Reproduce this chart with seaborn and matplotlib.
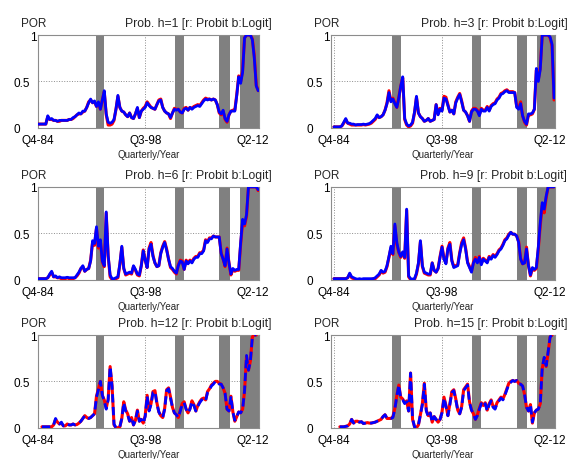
import numpy as np
import matplotlib.pyplot as plt
import seaborn as sns
from matplotlib.transforms import ScaledTranslation

# quarters counted from Q4-84 (index 0)
tick_pos = [0, 55, 110]
tick_labels = ["Q4-84", "Q3-98", "Q2-12"]
recessions = [(29.5, 34), (70.5, 75), (93, 98.5), (103.5, 114)]
horizons = [1, 3, 6, 9, 12, 15]

logit_h1 = [0.04, 0.04, 0.04, 0.04, 0.04, 0.13, 0.09, 0.10, 0.08, 0.08,
            0.07, 0.08, 0.08, 0.08, 0.08, 0.08, 0.09, 0.09, 0.11, 0.12,
            0.14, 0.16, 0.15, 0.18, 0.18, 0.22, 0.27, 0.31, 0.27, 0.29,
            0.23, 0.28, 0.20, 0.30, 0.40, 0.15, 0.06, 0.05, 0.06, 0.09,
            0.20, 0.35, 0.22, 0.18, 0.17, 0.14, 0.12, 0.16, 0.11, 0.10,
            0.15, 0.22, 0.11, 0.18, 0.20, 0.22, 0.27, 0.24, 0.22, 0.21,
            0.20, 0.25, 0.29, 0.30, 0.22, 0.18, 0.16, 0.15, 0.11, 0.16,
            0.20, 0.19, 0.20, 0.17, 0.16, 0.20, 0.21, 0.19, 0.22, 0.20,
            0.22, 0.23, 0.24, 0.23, 0.26, 0.29, 0.31, 0.30, 0.31, 0.30,
            0.31, 0.30, 0.25, 0.17, 0.15, 0.19, 0.10, 0.07, 0.14, 0.18,
            0.18, 0.18, 0.35, 0.55, 0.48, 0.60, 0.97, 1.0, 1.0, 1.0,
            0.95, 0.75, 0.45, 0.40]
probit_h1 = [0.04, 0.04, 0.04, 0.04, 0.04, 0.12, 0.09, 0.09, 0.08, 0.08,
             0.07, 0.07, 0.08, 0.08, 0.08, 0.08, 0.09, 0.09, 0.10, 0.12,
             0.14, 0.15, 0.15, 0.17, 0.18, 0.22, 0.28, 0.30, 0.27, 0.28,
             0.23, 0.27, 0.20, 0.30, 0.39, 0.14, 0.03, 0.03, 0.04, 0.08,
             0.20, 0.34, 0.22, 0.18, 0.17, 0.14, 0.12, 0.16, 0.11, 0.10,
             0.15, 0.21, 0.11, 0.18, 0.21, 0.23, 0.28, 0.25, 0.22, 0.21,
             0.20, 0.25, 0.30, 0.31, 0.22, 0.18, 0.16, 0.15, 0.10, 0.16,
             0.21, 0.20, 0.20, 0.17, 0.16, 0.21, 0.22, 0.19, 0.22, 0.21,
             0.23, 0.24, 0.25, 0.24, 0.27, 0.30, 0.32, 0.31, 0.31, 0.30,
             0.31, 0.30, 0.25, 0.16, 0.14, 0.18, 0.09, 0.06, 0.14, 0.18,
             0.19, 0.19, 0.36, 0.56, 0.50, 0.62, 0.97, 1.0, 1.0, 1.0,
             0.96, 0.78, 0.46, 0.40]

logit_h3 = [0.01, 0.01, 0.01, 0.01, 0.02, 0.06, 0.10, 0.05, 0.05, 0.04,
            0.04, 0.03, 0.035, 0.035, 0.035, 0.04, 0.035, 0.04, 0.045, 0.06,
            0.08, 0.10, 0.14, 0.11, 0.12, 0.14, 0.19, 0.26, 0.38, 0.28,
            0.31, 0.26, 0.22, 0.32, 0.45, 0.55, 0.10, 0.04, 0.02, 0.03,
            0.06, 0.17, 0.34, 0.16, 0.12, 0.10, 0.07, 0.08, 0.10, 0.07,
            0.08, 0.09, 0.25, 0.14, 0.20, 0.18, 0.32, 0.31, 0.24, 0.17,
            0.19, 0.15, 0.27, 0.32, 0.36, 0.28, 0.19, 0.17, 0.13, 0.07,
            0.17, 0.20, 0.20, 0.18, 0.13, 0.20, 0.18, 0.18, 0.22, 0.18,
            0.23, 0.25, 0.26, 0.30, 0.32, 0.36, 0.37, 0.39, 0.40, 0.38,
            0.38, 0.38, 0.38, 0.22, 0.20, 0.26, 0.13, 0.07, 0.04, 0.15,
            0.15, 0.16, 0.20, 0.64, 0.50, 0.63, 1.0, 1.0, 1.0, 1.0,
            0.98, 0.90, 0.32]
probit_h3 = [0.01, 0.01, 0.01, 0.01, 0.02, 0.05, 0.09, 0.05, 0.04, 0.03,
             0.03, 0.03, 0.03, 0.03, 0.03, 0.035, 0.03, 0.035, 0.04, 0.05,
             0.07, 0.09, 0.13, 0.11, 0.12, 0.14, 0.19, 0.27, 0.40, 0.29,
             0.32, 0.27, 0.22, 0.33, 0.45, 0.54, 0.09, 0.03, 0.01, 0.02,
             0.05, 0.16, 0.33, 0.16, 0.12, 0.10, 0.07, 0.08, 0.10, 0.07,
             0.08, 0.09, 0.25, 0.15, 0.21, 0.19, 0.34, 0.33, 0.25, 0.17,
             0.19, 0.15, 0.28, 0.33, 0.37, 0.29, 0.19, 0.17, 0.13, 0.07,
             0.18, 0.21, 0.21, 0.19, 0.14, 0.21, 0.19, 0.19, 0.23, 0.19,
             0.24, 0.26, 0.27, 0.31, 0.33, 0.37, 0.38, 0.40, 0.41, 0.39,
             0.39, 0.39, 0.38, 0.23, 0.21, 0.28, 0.13, 0.06, 0.03, 0.14,
             0.14, 0.15, 0.20, 0.62, 0.52, 0.65, 1.0, 1.0, 1.0, 1.0,
             0.97, 0.88, 0.30]

logit_h6 = [0.01, 0.01, 0.01, 0.01, 0.01, 0.02, 0.06, 0.09, 0.03, 0.04,
            0.02, 0.03, 0.02, 0.02, 0.02, 0.025, 0.02, 0.02, 0.02, 0.02,
            0.05, 0.08, 0.12, 0.15, 0.09, 0.11, 0.12, 0.20, 0.42, 0.39,
            0.57, 0.36, 0.43, 0.20, 0.15, 0.73, 0.26, 0.05, 0.01, 0.01,
            0.02, 0.03, 0.17, 0.36, 0.12, 0.06, 0.07, 0.08, 0.07, 0.15,
            0.11, 0.06, 0.05, 0.15, 0.31, 0.21, 0.13, 0.33, 0.38, 0.25,
            0.18, 0.14, 0.15, 0.28, 0.35, 0.40, 0.32, 0.22, 0.14, 0.12,
            0.09, 0.07, 0.15, 0.20, 0.19, 0.11, 0.20, 0.17, 0.20, 0.18,
            0.22, 0.24, 0.24, 0.28, 0.28, 0.31, 0.42, 0.40, 0.44, 0.44,
            0.47, 0.46, 0.46, 0.46, 0.28, 0.22, 0.15, 0.33, 0.18, 0.06,
            0.12, 0.10, 0.11, 0.11, 0.40, 0.65, 0.60, 0.70, 1.0, 1.0,
            1.0, 1.0, 1.0, 0.97]
probit_h6 = [0.01, 0.01, 0.01, 0.01, 0.01, 0.02, 0.05, 0.08, 0.03, 0.03,
             0.02, 0.02, 0.01, 0.01, 0.01, 0.02, 0.01, 0.01, 0.01, 0.02,
             0.04, 0.07, 0.12, 0.14, 0.09, 0.11, 0.12, 0.21, 0.40, 0.37,
             0.55, 0.34, 0.42, 0.19, 0.14, 0.72, 0.25, 0.03, 0.00, 0.00,
             0.01, 0.02, 0.16, 0.35, 0.12, 0.05, 0.06, 0.07, 0.06, 0.14,
             0.10, 0.05, 0.04, 0.15, 0.32, 0.21, 0.13, 0.34, 0.40, 0.26,
             0.18, 0.14, 0.15, 0.29, 0.36, 0.41, 0.33, 0.22, 0.13, 0.11,
             0.08, 0.06, 0.16, 0.21, 0.20, 0.11, 0.21, 0.18, 0.21, 0.19,
             0.23, 0.25, 0.25, 0.29, 0.29, 0.32, 0.43, 0.41, 0.45, 0.45,
             0.47, 0.46, 0.46, 0.46, 0.29, 0.22, 0.14, 0.34, 0.18, 0.05,
             0.11, 0.09, 0.10, 0.10, 0.38, 0.62, 0.58, 0.68, 1.0, 1.0,
             1.0, 1.0, 1.0, 0.96]

logit_h9 = [0.01, 0.01, 0.01, 0.01, 0.01, 0.01, 0.01, 0.02, 0.07, 0.03,
            0.02, 0.01, 0.005, 0.01, 0.005, 0.01, 0.01, 0.01, 0.01, 0.01,
            0.01, 0.02, 0.04, 0.06, 0.10, 0.08, 0.09, 0.15, 0.25, 0.36,
            0.28, 0.60, 0.40, 0.30, 0.25, 0.30, 0.24, 0.76, 0.04, 0.01,
            0.005, 0.01, 0.07, 0.18, 0.42, 0.15, 0.08, 0.07, 0.06, 0.06,
            0.18, 0.10, 0.08, 0.12, 0.24, 0.35, 0.22, 0.17, 0.33, 0.38,
            0.20, 0.13, 0.14, 0.15, 0.28, 0.38, 0.43, 0.33, 0.18, 0.13,
            0.08, 0.18, 0.22, 0.18, 0.24, 0.16, 0.22, 0.20, 0.18, 0.24,
            0.22, 0.26, 0.24, 0.27, 0.31, 0.33, 0.37, 0.42, 0.44, 0.48,
            0.51, 0.49, 0.49, 0.47, 0.40, 0.22, 0.17, 0.18, 0.33, 0.15,
            0.05, 0.13, 0.11, 0.13, 0.35, 0.62, 0.83, 0.76, 0.90, 1.0,
            1.0, 1.0, 1.0]
probit_h9 = [0.01, 0.01, 0.01, 0.01, 0.01, 0.01, 0.01, 0.02, 0.06, 0.02,
             0.01, 0.00, 0.00, 0.00, 0.00, 0.00, 0.00, 0.00, 0.00, 0.00,
             0.01, 0.01, 0.03, 0.05, 0.09, 0.07, 0.08, 0.14, 0.24, 0.34,
             0.27, 0.58, 0.38, 0.29, 0.24, 0.29, 0.23, 0.75, 0.03, 0.00,
             0.00, 0.00, 0.06, 0.17, 0.41, 0.14, 0.07, 0.06, 0.05, 0.05,
             0.18, 0.10, 0.08, 0.12, 0.25, 0.36, 0.23, 0.18, 0.34, 0.40,
             0.21, 0.14, 0.15, 0.16, 0.29, 0.40, 0.45, 0.34, 0.19, 0.14,
             0.09, 0.19, 0.24, 0.19, 0.25, 0.17, 0.23, 0.21, 0.19, 0.25,
             0.23, 0.27, 0.25, 0.28, 0.32, 0.34, 0.38, 0.43, 0.45, 0.49,
             0.51, 0.49, 0.49, 0.47, 0.41, 0.23, 0.17, 0.18, 0.35, 0.15,
             0.04, 0.12, 0.10, 0.12, 0.33, 0.58, 0.80, 0.72, 0.88, 1.0,
             1.0, 1.0, 1.0]

logit_h12 = [None, None, 0.01, 0.01, 0.01, 0.01, 0.01, 0.01, 0.03, 0.10,
             0.06, 0.04, 0.06, 0.02, 0.02, 0.04, 0.03, 0.03, 0.04, 0.03,
             0.035, 0.05, 0.07, 0.10, 0.13, 0.11, 0.10, 0.11, 0.13, 0.15,
             0.33, 0.41, 0.50, 0.35, 0.29, 0.20, 0.30, 0.66, 0.45, 0.04,
             0.00, 0.01, 0.01, 0.10, 0.27, 0.18, 0.14, 0.07, 0.11, 0.03,
             0.08, 0.18, 0.07, 0.09, 0.05, 0.12, 0.34, 0.18, 0.25, 0.38,
             0.39, 0.26, 0.17, 0.13, 0.11, 0.20, 0.40, 0.42, 0.32, 0.22,
             0.16, 0.14, 0.11, 0.18, 0.25, 0.27, 0.20, 0.16, 0.20, 0.28,
             0.24, 0.18, 0.23, 0.27, 0.30, 0.31, 0.29, 0.38, 0.41, 0.45,
             0.47, 0.50, 0.50, 0.47, 0.47, 0.43, 0.37, 0.20, 0.18, 0.34,
             0.17, 0.08, 0.12, 0.17, 0.16, 0.20, 0.40, 0.78, 0.62, 0.72,
             0.98, 1.0, 1.0]
probit_h12 = [None, None, 0.01, 0.01, 0.01, 0.01, 0.01, 0.01, 0.03, 0.09,
              0.06, 0.04, 0.05, 0.02, 0.02, 0.04, 0.03, 0.03, 0.04, 0.03,
              0.035, 0.05, 0.07, 0.10, 0.13, 0.11, 0.10, 0.11, 0.13, 0.15,
              0.34, 0.42, 0.50, 0.35, 0.30, 0.21, 0.31, 0.66, 0.45, 0.03,
              0.00, 0.00, 0.01, 0.10, 0.28, 0.19, 0.15, 0.07, 0.11, 0.03,
              0.08, 0.19, 0.07, 0.09, 0.05, 0.13, 0.35, 0.19, 0.26, 0.39,
              0.40, 0.27, 0.17, 0.13, 0.11, 0.21, 0.41, 0.43, 0.33, 0.22,
              0.16, 0.14, 0.11, 0.19, 0.26, 0.28, 0.20, 0.16, 0.21, 0.29,
              0.25, 0.18, 0.24, 0.28, 0.31, 0.32, 0.30, 0.39, 0.42, 0.46,
              0.48, 0.50, 0.50, 0.48, 0.47, 0.43, 0.37, 0.20, 0.18, 0.34,
              0.17, 0.07, 0.12, 0.17, 0.16, 0.20, 0.40, 0.77, 0.62, 0.72,
              0.98, 1.0, 1.0]

logit_h15 = [None, None, None, 0.01, 0.01, 0.01, 0.015, 0.02, 0.04, 0.09,
             0.05, 0.07, 0.07, 0.06, 0.065, 0.045, 0.05, 0.055, 0.05, 0.05,
             0.055, 0.06, 0.07, 0.08, 0.09, 0.12, 0.14, 0.10, 0.10, 0.10,
             0.11, 0.20, 0.34, 0.46, 0.32, 0.30, 0.26, 0.28, 0.18, 0.59,
             0.10, 0.01, 0.00, 0.03, 0.14, 0.25, 0.47, 0.18, 0.12, 0.16,
             0.06, 0.12, 0.09, 0.06, 0.09, 0.16, 0.32, 0.23, 0.13, 0.25,
             0.38, 0.40, 0.30, 0.19, 0.15, 0.22, 0.40, 0.43, 0.46, 0.27,
             0.19, 0.15, 0.09, 0.13, 0.20, 0.26, 0.23, 0.26, 0.18, 0.25,
             0.29, 0.22, 0.20, 0.26, 0.29, 0.32, 0.30, 0.35, 0.41, 0.47,
             0.49, 0.51, 0.50, 0.51, 0.47, 0.47, 0.45, 0.36, 0.22, 0.18,
             0.25, 0.06, 0.16, 0.19, 0.20, 0.26, 0.65, 0.76, 0.67, 0.82,
             0.98, 1.0]
probit_h15 = [None, None, None, 0.01, 0.01, 0.01, 0.015, 0.02, 0.04, 0.09,
              0.05, 0.07, 0.07, 0.06, 0.065, 0.045, 0.05, 0.055, 0.05, 0.05,
              0.055, 0.06, 0.07, 0.08, 0.09, 0.12, 0.14, 0.10, 0.10, 0.10,
              0.12, 0.21, 0.35, 0.46, 0.33, 0.31, 0.27, 0.29, 0.18, 0.59,
              0.09, 0.01, 0.00, 0.03, 0.14, 0.26, 0.48, 0.19, 0.13, 0.16,
              0.06, 0.12, 0.09, 0.06, 0.09, 0.17, 0.33, 0.24, 0.13, 0.26,
              0.39, 0.41, 0.31, 0.19, 0.15, 0.23, 0.41, 0.44, 0.47, 0.28,
              0.19, 0.15, 0.09, 0.14, 0.21, 0.27, 0.24, 0.27, 0.19, 0.26,
              0.30, 0.23, 0.21, 0.27, 0.30, 0.33, 0.31, 0.36, 0.42, 0.48,
              0.50, 0.51, 0.50, 0.51, 0.48, 0.47, 0.45, 0.36, 0.22, 0.18,
              0.25, 0.05, 0.16, 0.19, 0.20, 0.26, 0.64, 0.75, 0.66, 0.81,
              0.98, 1.0]

sns.set_theme(style="white")
plt.rcParams["font.family"] = ["Liberation Sans", "DejaVu Sans"]

panels = [
    (horizons[0], probit_h1, logit_h1),
    (horizons[1], probit_h3, logit_h3),
    (horizons[2], probit_h6, logit_h6),
    (horizons[3], probit_h9, logit_h9),
    (horizons[4], probit_h12, logit_h12),
    (horizons[5], probit_h15, logit_h15),
]

# axes boxes in figure fractions: left column / right column, three rows
lefts = [0.0667, 0.5807]
widths = [0.388, 0.393]
bottoms = [0.720, 0.390, 0.068]
xlims = [(0, 113.5), (-1.5, 112.5)]


def draw_panel(ax, h, probit, logit, dashed, xlim):
    for start, end in recessions:
        ax.axvspan(start, end, color="0.5", lw=0, zorder=1)

    probit = np.array(probit, dtype=float)
    logit = np.array(logit, dtype=float)
    sns.lineplot(x=np.arange(len(probit)), y=probit, ax=ax, color="red",
                 lw=2.2, estimator=None, zorder=3)
    sns.lineplot(x=np.arange(len(logit)), y=logit, ax=ax, color="blue",
                 lw=2.0, estimator=None, zorder=4,
                 linestyle=(0, (3, 1.6)) if dashed else "-")

    ax.set_xlim(*xlim)
    ax.set_ylim(0, 1)
    ax.set_xticks(tick_pos)
    ax.set_xticklabels(tick_labels)
    ax.set_yticks([0, 0.5, 1])
    ax.set_yticklabels(["0", "0.5", "1"])
    ax.set_axisbelow(True)
    ax.grid(True, linestyle=":", color="0.55", lw=0.7)
    for sp in ax.spines.values():
        sp.set_color("0.55")
        sp.set_linewidth(0.8)
    ax.tick_params(direction="in", length=3, color="0.4", labelsize=8.5,
                   labelcolor="black")
    ax.tick_params(axis="x", pad=4.5)
    ax.tick_params(axis="y", pad=6)
    ax.set_xlabel("Quarterly/Year", fontsize=7, labelpad=2)
    ax.set_ylabel("")

    # MATLAB-like placement of the y tick labels: "0" further left, "1" nearer the axis
    shifts = [-0.10, 0.0, 0.07]
    for lab, dx in zip(ax.get_yticklabels(), shifts):
        lab.set_transform(lab.get_transform()
                          + ScaledTranslation(dx, 0, ax.figure.dpi_scale_trans))

    ax.text(-0.075, 1.095, "POR", transform=ax.transAxes, ha="left",
            va="baseline", fontsize=8.5)
    ax.text(1.055, 1.095, f"Prob. h={h} [r: Probit b:Logit]",
            transform=ax.transAxes, ha="right", va="baseline", fontsize=8.8)


fig = plt.figure(figsize=(5.7, 4.6), dpi=100)
for i, (h, probit, logit) in enumerate(panels):
    row, col = divmod(i, 2)
    ax = fig.add_axes([lefts[col], bottoms[row], widths[col], 0.2015])
    draw_panel(ax, h, probit, logit, dashed=(row == 2), xlim=xlims[col])

fig.savefig("out.png", dpi=100)
